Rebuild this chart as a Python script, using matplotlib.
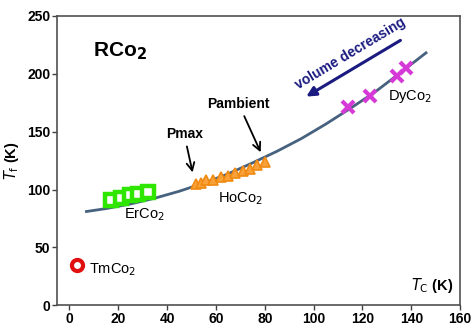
import matplotlib.pyplot as plt

plt.rcParams['font.family'] = ['Liberation Sans', 'DejaVu Sans']

# fitted guide line
curve_x = [7, 15, 25, 35, 45, 55, 65, 75, 85, 95, 105, 115, 125, 135, 146]
curve_y = [81, 83.5, 87.5, 92.5, 98.5, 105.5, 113.5, 123, 133, 144, 156.5, 170, 184, 200, 218]

# compounds
er_x = [17, 21, 25, 28, 32]
er_y = [91, 93, 95, 96, 98]
ho_x = [52, 54, 56, 59, 62, 65, 68, 71, 74, 77, 80]
ho_y = [105, 106, 108, 108, 111, 112, 114, 116, 118, 121, 124]
dy_x = [114, 123, 134, 138]
dy_y = [171, 181, 198, 205]
tm_x = [3]
tm_y = [35]

fig = plt.figure(figsize=(4.72, 3.29), dpi=100)
ax = fig.add_axes([0.121, 0.072, 0.854, 0.88])

ax.plot(curve_x, curve_y, color="#46627F", lw=2, zorder=2)
ax.plot(er_x, er_y, ls="none", marker="s", ms=8, mfc="white", mec="#2EE600", mew=3.2, zorder=3)
ax.plot(ho_x, ho_y, ls="none", marker="^", ms=7.5, mfc="#F9A23C", mec="#F08A10", mew=1.2, zorder=3)
ax.plot(dy_x, dy_y, ls="none", marker="x", ms=9, mec="#D63AD6", mew=3, zorder=3)
ax.plot(tm_x, tm_y, ls="none", marker="o", ms=8, mfc="white", mec="#E01010", mew=3, zorder=3)

ax.set_xlim(-5, 160)
ax.set_ylim(0, 250)
ax.set_xticks(range(0, 161, 20))
ax.set_yticks(range(0, 251, 50))
ax.tick_params(direction="out", length=3.5, width=1, pad=1.5, colors="#404040",
               labelsize=10, labelcolor="black")
for lab in ax.get_xticklabels() + ax.get_yticklabels():
    lab.set_fontweight("bold")
for s in ax.spines.values():
    s.set_color("#505050")
    s.set_linewidth(1.2)

ax.set_ylabel(r"$\mathit{T}_\mathrm{f}$ (K)", fontsize=10.5, fontweight="bold", labelpad=4)
ax.text(140, 17, r"$\mathit{T}_\mathrm{C}$ (K)", fontsize=10.5, fontweight="bold", va="center")

ax.text(9.5, 219, r"RCo$_\mathbf{2}$", fontsize=15, fontweight="bold", va="center")
ax.text(22.4, 78, r"ErCo$_2$", fontsize=10.5, va="center")
ax.text(61, 92.5, r"HoCo$_2$", fontsize=10.5, va="center")
ax.text(130.5, 180.5, r"DyCo$_2$", fontsize=10.5, va="center")
ax.text(8, 31, r"TmCo$_2$", fontsize=10.5, va="center")

arrow = dict(arrowstyle="->", color="black", lw=1.3, mutation_scale=14)
ax.annotate("Pmax", xy=(50.7, 112.4), xytext=(47, 148), fontsize=10, fontweight="bold",
            ha="center", va="center", arrowprops=arrow)
ax.annotate("Pambient", xy=(78.8, 130), xytext=(69.3, 174), fontsize=10, fontweight="bold",
            ha="center", va="center", arrowprops=arrow)

ax.annotate("", xy=(96, 179), xytext=(136.5, 230),
            arrowprops=dict(arrowstyle="-|>", color="#1A1A80", lw=2.2, mutation_scale=14))
ax.text(115, 217, "volume decreasing", color="#1A1A80", fontsize=10, fontweight="bold",
        rotation=31, ha="center", va="center", rotation_mode="anchor")

fig.savefig("out.png", dpi=100)
